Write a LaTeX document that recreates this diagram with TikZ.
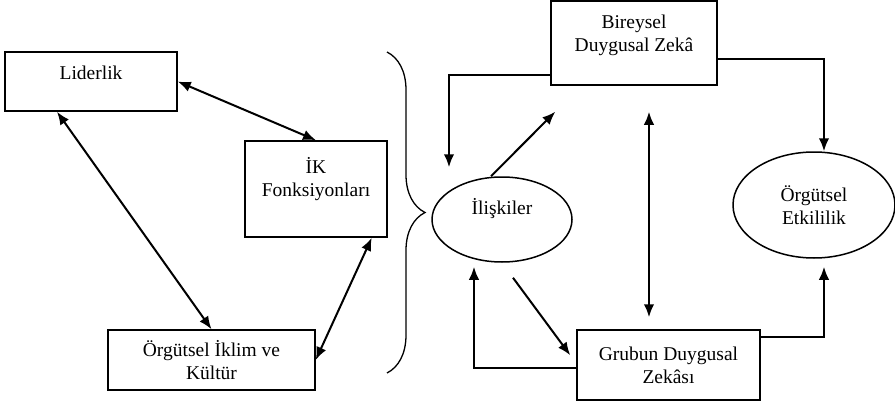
\documentclass[tikz,border=0pt]{standalone}
\usepackage{fontspec}
\setmainfont{Liberation Serif}
\usetikzlibrary{arrows.meta,shapes.geometric,decorations.pathreplacing}

\begin{document}
\begin{tikzpicture}[x=1pt,y=-1pt,>={Latex[length=13pt,width=10.5pt]},
  every node/.style={font=\fontsize{19.5}{23}\selectfont,align=center},
  kutu/.style={draw,line width=1.5pt,rectangle,inner sep=0pt},
  elips/.style={draw,line width=1.5pt,ellipse,inner sep=0pt},
  ok/.style={line width=2pt}]
  \useasboundingbox (0,0) rectangle (895,404);
% left group
  \node[kutu,minimum width=172pt,minimum height=59pt] (lid) at (91,81.5) {Liderlik\\[-5pt]\mbox{}};
  \node[kutu,minimum width=142pt,minimum height=96pt] (ikf) at (316,189) {İK\\Fonksiyonları\\[2pt]\mbox{}};
  \node[kutu,minimum width=207pt,minimum height=60pt] (okl) at (211.5,360) {Örgütsel İklim ve\\Kültür};
  \draw[ok,<->] (lid.east) -- (ikf.north);
  \draw[ok,<->] ([xshift=-34pt]lid.south) -- (okl.north);
  \draw[ok,<->] ([xshift=-16pt]ikf.south east) -- (okl.east);
% brace
  \draw[line width=1.3pt,decorate,decoration={brace,amplitude=38pt}] (387,52) -- (387,373);
% right group
  \node[elips,minimum width=140pt,minimum height=85pt] (ili) at (502,219.5) {İlişkiler\\[4pt]\mbox{}};
  \node[kutu,minimum width=166pt,minimum height=84pt] (bir) at (634,43) {Bireysel\\Duygusal Zekâ\\[-4pt]\mbox{}};
  \node[kutu,minimum width=183pt,minimum height=70pt] (grb) at (668.5,365) {Grubun Duygusal\\Zekâsı};
  \node[elips,minimum width=162pt,minimum height=106pt] (etk) at (814,205) {Örgütsel\\Etkililik};
  \draw[ok,->] ([yshift=11pt]bir.south west) -| ([xshift=-53pt,yshift=9pt]ili.north);
  \draw[ok,->] ([yshift=-16pt]bir.east) -| ([xshift=10pt]etk.north);
  \draw[ok,->] ([xshift=-11pt]ili.north) -- ([xshift=5pt,yshift=-26pt]bir.south west);
  \draw[ok,<->] ([xshift=15pt,yshift=-26pt]bir.south) -- ([xshift=-19.5pt,yshift=12pt]grb.north);
  \draw[ok,->] ([yshift=-8pt]grb.north east) -| ([xshift=10pt,yshift=-8pt]etk.south);
  \draw[ok,->] ([yshift=-3pt]grb.west) -| ([xshift=-28pt,yshift=-4pt]ili.south);
  \draw[ok,->] ([xshift=11pt,yshift=-15pt]ili.south) -- ([xshift=-6pt,yshift=-26pt]grb.north west);
\end{tikzpicture}
\end{document}
